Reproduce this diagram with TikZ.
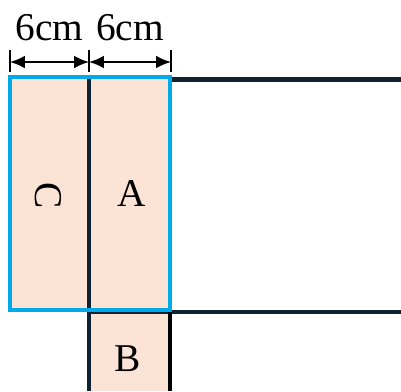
\documentclass[tikz,border=0pt]{standalone}
\usepackage{fontspec}
\setmainfont{Liberation Serif}
\usetikzlibrary{arrows.meta}
\definecolor{peach}{HTML}{FBE3D6}
\definecolor{edgeblue}{HTML}{00A9E8}
\definecolor{navy}{HTML}{0E2233}
\tikzset{
  dim/.style={line width=1.3pt,{Latex[length=10.5pt,width=9pt]}-{Latex[length=10.5pt,width=9pt]}},
  tick/.style={line width=1.8pt},
  lbl/.style={font=\fontsize{28}{32}\selectfont,inner sep=0}
}
\begin{document}
\begin{tikzpicture}[x=0.025cm,y=-0.025cm]
\useasboundingbox (0,0) rectangle (401,391);
% strips
\fill[peach] (10,77) rectangle (170,310);
\fill[peach] (89,310) rectangle (170,391);
% dark lines
\draw[navy,line width=3pt] (170,79.5)--(401,79.5);
\draw[navy,line width=3pt] (89,312)--(401,312);
\draw[navy,line width=3pt] (89,77)--(89,391);
\draw[black,line width=2.6pt] (170,312)--(170,391);
\draw[edgeblue,line width=3.2pt] (10,77) rectangle (170,310);
% dimension marks
\coordinate (t1) at (10,62);
\coordinate (t2) at (89,62);
\coordinate (t3) at (171,62);
\foreach \t in {t1,t2,t3} \draw[tick] ([yshift=0.3cm]\t)--([yshift=-0.25cm]\t);
\draw[dim] (t1)--(t2) node[lbl,midway,above=0.5cm] (w1) {6cm};
\draw[dim] (t2)--(t3) node[lbl,midway,above=0.5cm] (w2) {6cm};
% labels
\node[lbl,rotate=-90] (c) at (48,196) {C};
\node[lbl] (a) at (132,193) {A};
\node[lbl] (b) at (128,359) {B};
\end{tikzpicture}
\end{document}
